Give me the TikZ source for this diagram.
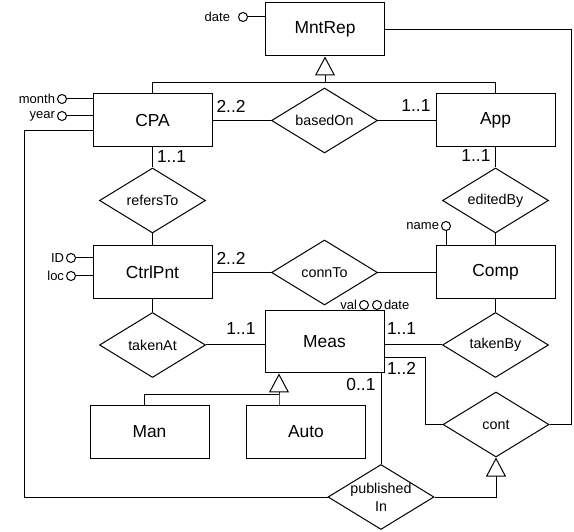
\documentclass[tikz,border=0pt]{standalone}
\usepackage{fontspec}
\setmainfont{Liberation Sans}
\usetikzlibrary{arrows.meta,shapes.geometric}

\begin{document}
\begin{tikzpicture}[line width=1pt, x=1pt, y=-1pt]
    \tikzstyle{entity}=[rectangle,draw,minimum width=119pt,minimum height=53pt,inner sep=0pt,font=\fontsize{17.4}{20}\selectfont]
    \tikzstyle{relation}=[diamond,draw,aspect=1.6,minimum width=106pt,minimum height=65pt,inner sep=0pt,align=center,font=\fontsize{14.3}{18}\selectfont]
    \tikzstyle{attr}=[circle,draw,minimum size=9pt,inner sep=0pt,label distance=1pt]
    \tikzstyle{side attr}=[attr,label distance=3.5pt]
    \tikzstyle{every label}=[font=\fontsize{13}{15}\selectfont,inner sep=1.5pt]
    \tikzstyle{card}=[font=\fontsize{17.4}{20}\selectfont,inner sep=0pt]
    \tikzstyle{isa}=[-{Triangle[open,length=19pt,width=20pt]}]

    \useasboundingbox (0,0) rectangle (574,532);

    % Draw the entity nodes
    \node[entity] (MntRep) at (325,29.5) {MntRep};
    \node[entity] (CPA) at (152.5,120.5) {CPA};
    \node[entity] (App) at (495.5,120.5) {App};
    \node[entity] (CtrlPnt) at (152.5,272.5) {CtrlPnt};
    \node[entity] (Comp) at (495.5,272.5) {Comp};
    \node[entity, minimum height=62pt] (Meas) at (324.5,342) {Meas};
    \node[entity] (Man) at (149.5,431.5) {Man};
    \node[entity] (Auto) at (306,431.5) {Auto};

    % Draw the relationship nodes
    \node[relation] (basedOn) at (324.5,120.5) {basedOn};
    \node[relation] (refersTo) at (152.5,200.5) {refersTo};
    \node[relation] (editedBy) at (495.5,200.5) {editedBy};
    \node[relation] (connTo) at (324.5,272.5) {connTo};
    \node[relation] (takenAt) at (152.5,345) {takenAt};
    \node[relation] (takenBy) at (495.5,345) {takenBy};
    \node[relation] (cont) at (496,424.5) {cont};
    \node[relation, inner sep=-2pt] (publishedIn) at (381,497) {published\\In};

    % Draw the attribute nodes
    \node[side attr, label={[label distance=6pt]left:date}] (a-date) at (243,17) {};
    \node[side attr, label=left:month] (a-month) at (62,99) {};
    \node[side attr, label=left:year] (a-year) at (62,116) {};
    \node[side attr, label=left:ID] (a-ID) at (71,258) {};
    \node[side attr, label=left:loc] (a-loc) at (71,276) {};
    \node[attr, label=left:name] (a-name) at (446,226) {};
    \node[attr, label=left:val] (a-val) at (364,305) {};
    \node[attr, label=right:date] (a-mdate) at (377,305) {};

    % Connect every attribute with its entity
    \path (a-date) edge (a-date -| MntRep.west);
    \path (a-month) edge (a-month -| CPA.west);
    \path (a-year) edge (a-year -| CPA.west);
    \path (a-ID) edge (a-ID -| CtrlPnt.west);
    \path (a-loc) edge (a-loc -| CtrlPnt.west);
    \path (a-name) edge (a-name |- Comp.north);
    \path (a-val) edge (a-val |- Meas.north);
    \path (a-mdate) edge (a-mdate |- Meas.north);

    % Connect the entities with the relationships
    \path (CPA) edge (basedOn);
    \path (basedOn) edge (App);
    \path (CPA) edge (refersTo);
    \path (refersTo) edge (CtrlPnt);
    \path (App) edge (editedBy);
    \path (editedBy) edge (Comp);
    \path (CtrlPnt) edge (connTo);
    \path (connTo) edge (Comp);
    \path (CtrlPnt) edge (takenAt);
    \path (Comp) edge (takenBy);
    \path (takenAt) edge (takenAt -| Meas.west);
    \path (takenBy) edge (takenBy -| Meas.east);
    \path (Meas.south -| publishedIn.north) edge (publishedIn.north);

    % Route the long connectors round the diagram
    \coordinate (K) at (425,358);
    \coordinate (L) at (24,131);
    \coordinate (R) at (571,29.5);
    \draw (Meas.east |- K) -- (K) |- (cont.west);
    \draw (publishedIn.west) -| (L) -- (L -| CPA.west);
    \draw (cont.east) -| (R) -- (MntRep.east);

    % Draw the generalisations
    \coordinate (J-1) at (325,83);
    \coordinate (J-2) at (279,394.5);
    \coordinate (J-3) at (144,394.5);
    \draw[isa] (CPA.north) |- (J-1) -- (MntRep.south);
    \draw (App.north) |- (J-1);
    \draw[isa] (Auto.north -| J-2) -- (J-2) -- (J-2 |- Meas.south);
    \draw (Man.north -| J-3) -- (J-3) -- (J-2);
    \draw[isa] (publishedIn.east) -| (cont.south);

    % Annotate the cardinalities
    \node[card, anchor=base west] (k-1) at (216,113) {2..2};
    \node[card, anchor=base east] (k-2) at (431,112) {1..1};
    \node[card, anchor=base west] (k-3) at (156.5,163) {1..1};
    \node[card, anchor=base east] (k-4) at (491,162) {1..1};
    \node[card, anchor=base west] (k-5) at (216,265) {2..2};
    \node[card, anchor=base east] (k-6) at (256,335) {1..1};
    \node[card, anchor=base west] (k-7) at (386.5,335) {1..1};
    \node[card, anchor=base west] (k-8) at (386.5,374) {1..2};
    \node[card, anchor=base east] (k-9) at (376,391) {0..1};
\end{tikzpicture}
\end{document}
